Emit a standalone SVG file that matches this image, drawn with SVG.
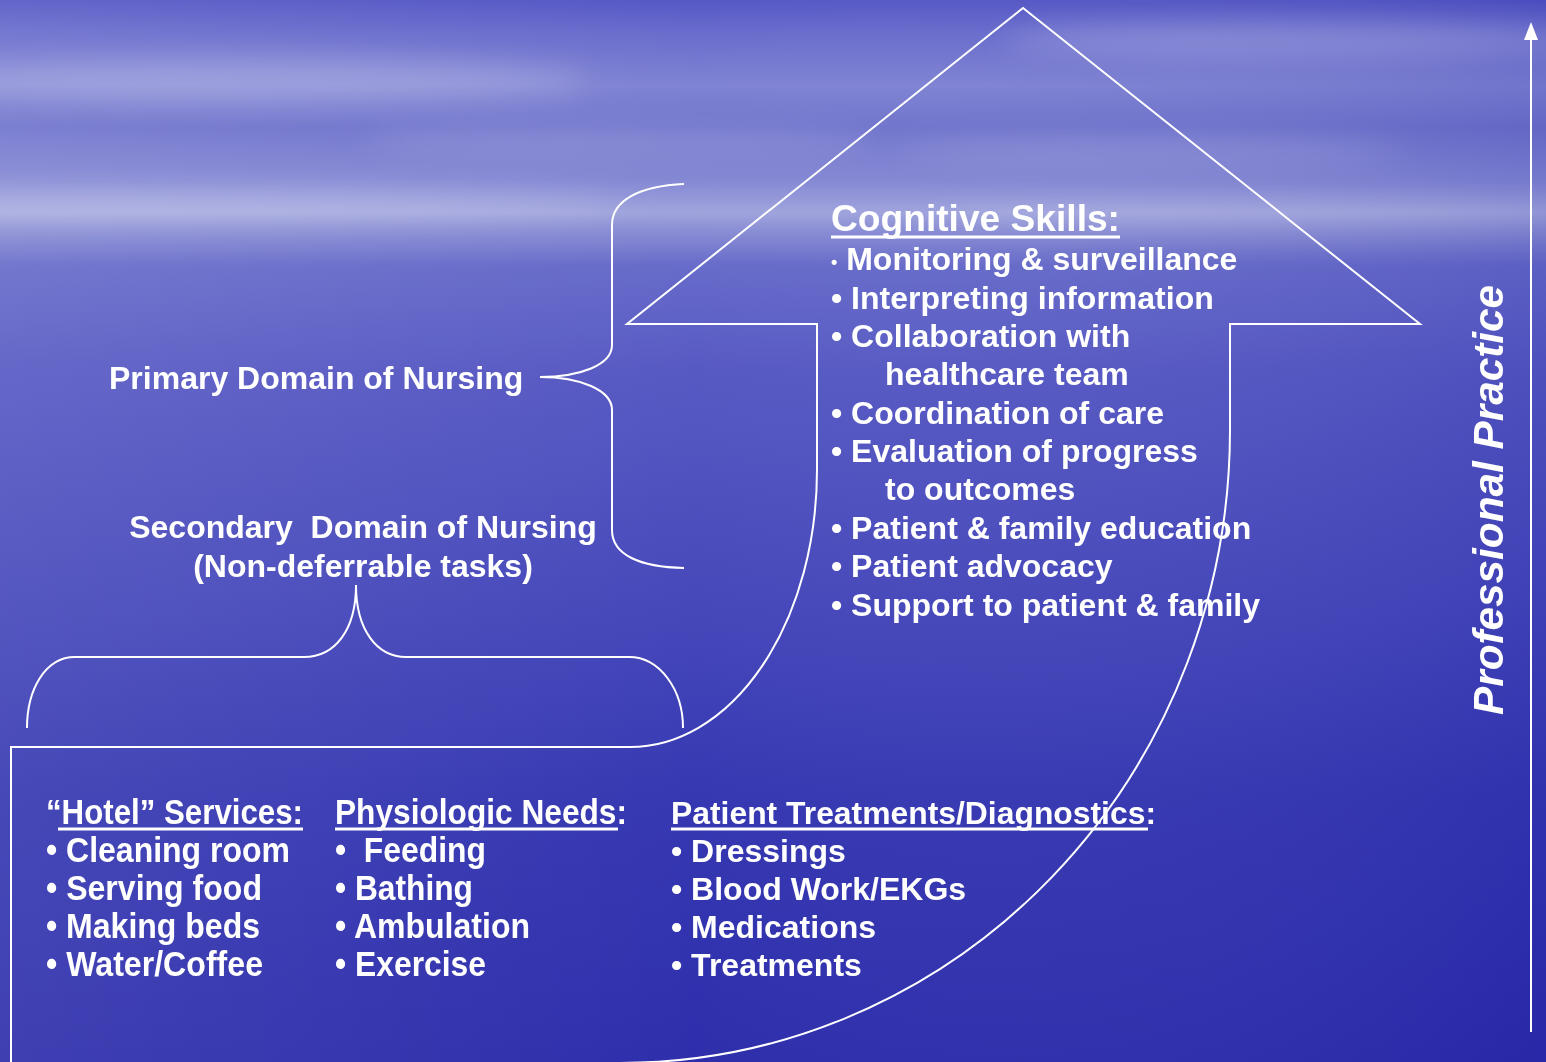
<svg xmlns="http://www.w3.org/2000/svg" width="1546" height="1062" viewBox="0 0 1546 1062">
  <defs>
    <linearGradient id="sky" x1="0" y1="0" x2="0" y2="1">
      <stop offset="0" stop-color="#5254c4"/>
      <stop offset="0.03" stop-color="#6669cb"/>
      <stop offset="0.08" stop-color="#7d81d2"/>
      <stop offset="0.12" stop-color="#6d71cb"/>
      <stop offset="0.17" stop-color="#8286d3"/>
      <stop offset="0.2" stop-color="#9ea2dc"/>
      <stop offset="0.215" stop-color="#8a8ed4"/>
      <stop offset="0.25" stop-color="#6468c8"/>
      <stop offset="0.35" stop-color="#5456c2"/>
      <stop offset="0.55" stop-color="#4446ba"/>
      <stop offset="0.75" stop-color="#3234b0"/>
      <stop offset="1" stop-color="#2a2aaa"/>
    </linearGradient>
    <linearGradient id="side" x1="0" y1="0" x2="1" y2="0">
      <stop offset="0" stop-color="#ffffff" stop-opacity="0.1"/>
      <stop offset="0.45" stop-color="#ffffff" stop-opacity="0.02"/>
      <stop offset="1" stop-color="#1a1a98" stop-opacity="0.12"/>
    </linearGradient>
    <filter id="soft" x="-20%" y="-200%" width="140%" height="500%">
      <feGaussianBlur stdDeviation="14"/>
    </filter>
    <style>
      .ln { fill: none; stroke: #ffffff; stroke-width: 2; }
      .t { fill: #ffffff; font-family: "Liberation Sans", Arial, sans-serif; font-weight: bold; }
      .cog { font-size: 32px; }
      .dom { font-size: 32px; }
      .col { font-size: 35px; }
      .ul { stroke: #ffffff; stroke-width: 3; }
    </style>
  </defs>

  <!-- sky and sea backdrop -->
  <rect width="1546" height="1062" fill="url(#sky)"/>
  <rect width="1546" height="1062" fill="url(#side)"/>
  <g fill="#ffffff" filter="url(#soft)">
    <ellipse cx="260" cy="80" rx="330" ry="22" opacity="0.2"/>
    <ellipse cx="620" cy="140" rx="260" ry="16" opacity="0.13"/>
    <ellipse cx="1300" cy="40" rx="300" ry="18" opacity="0.2"/>
    <ellipse cx="1150" cy="150" rx="260" ry="14" opacity="0.13"/>
    <ellipse cx="200" cy="205" rx="420" ry="14" opacity="0.18"/>
    <ellipse cx="1250" cy="215" rx="320" ry="12" opacity="0.13"/>
  </g>

  <!-- connectors: arrow outline, braces, vertical axis -->
  <g id="connectors">
    <path class="ln" d="M11,1062 L11,747 L630,747 A187,277 0 0 0 817,470 L817,324 L627,324 L1023,8 L1420,324 L1230,324 L1230,430 A610,633 0 0 1 620,1063"/>
    <path class="ln" d="M684,184 C640,186 612,200 612,225 L612,345 C612,365 580,377 540,377 C580,377 612,390 612,410 L612,530 C612,555 640,567 684,568"/>
    <path class="ln" d="M27,728 C27,690 45,657 75,657 L304,657 C335,657 356,630 356,585 C356,630 377,657 406,657 L629,657 C660,657 683,690 683,728"/>
    <line class="ln" x1="1531" y1="1032" x2="1531" y2="36"/>
    <polygon points="1531,22 1524,40 1538,40" fill="#ffffff"/>
  </g>

  <!-- cognitive skills -->
  <g id="cognitive">
    <text class="t" x="831" y="231" font-size="37" textLength="289" lengthAdjust="spacingAndGlyphs">Cognitive Skills:</text>
    <line class="ul" x1="831" y1="237" x2="1120" y2="237"/>
    <text class="t cog" x="831" y="270"><tspan font-size="18" dy="-2">•</tspan><tspan dy="2"> Monitoring &amp; surveillance</tspan></text>
    <text class="t cog" x="831" y="309">• Interpreting information</text>
    <text class="t cog" x="831" y="347">• Collaboration with</text>
    <text class="t cog" x="885" y="385">healthcare team</text>
    <text class="t cog" x="831" y="424">• Coordination of care</text>
    <text class="t cog" x="831" y="462">• Evaluation of progress</text>
    <text class="t cog" x="885" y="500">to outcomes</text>
    <text class="t cog" x="831" y="539">• Patient &amp; family education</text>
    <text class="t cog" x="831" y="577">• Patient advocacy</text>
    <text class="t cog" x="831" y="616">• Support to patient &amp; family</text>
  </g>

  <!-- domain labels -->
  <g id="primary">
    <text class="t dom" x="109" y="389">Primary Domain of Nursing</text>
  </g>
  <g id="secondary">
    <text class="t dom" x="363" y="538" text-anchor="middle" xml:space="preserve">Secondary  Domain of Nursing</text>
    <text class="t dom" x="363" y="577" text-anchor="middle">(Non-deferrable tasks)</text>
  </g>

  <!-- hotel services -->
  <g id="hotel">
    <text class="t col" x="46" y="824" textLength="257" lengthAdjust="spacingAndGlyphs">“Hotel” Services:</text>
    <line class="ul" x1="58" y1="829" x2="303" y2="829"/>
    <text class="t col" x="46" y="862" textLength="244" lengthAdjust="spacingAndGlyphs">• Cleaning room</text>
    <text class="t col" x="46" y="900" textLength="216" lengthAdjust="spacingAndGlyphs">• Serving food</text>
    <text class="t col" x="46" y="938" textLength="214" lengthAdjust="spacingAndGlyphs">• Making beds</text>
    <text class="t col" x="46" y="976" textLength="217" lengthAdjust="spacingAndGlyphs">• Water/Coffee</text>
  </g>

  <!-- physiologic needs -->
  <g id="physiologic">
    <text class="t col" x="335" y="824" textLength="292" lengthAdjust="spacingAndGlyphs">Physiologic Needs:</text>
    <line class="ul" x1="335" y1="829" x2="618" y2="829"/>
    <text class="t col" x="335" y="862" textLength="151" lengthAdjust="spacingAndGlyphs" xml:space="preserve">•  Feeding</text>
    <text class="t col" x="335" y="900" textLength="138" lengthAdjust="spacingAndGlyphs">• Bathing</text>
    <text class="t col" x="335" y="938" textLength="195" lengthAdjust="spacingAndGlyphs">• Ambulation</text>
    <text class="t col" x="335" y="976" textLength="151" lengthAdjust="spacingAndGlyphs">• Exercise</text>
  </g>

  <!-- treatments and diagnostics -->
  <g id="treatments">
    <text class="t" x="671" y="824" font-size="32" textLength="485" lengthAdjust="spacingAndGlyphs">Patient Treatments/Diagnostics:</text>
    <line class="ul" x1="671" y1="829" x2="1148" y2="829"/>
    <text class="t" x="671" y="862" font-size="32">• Dressings</text>
    <text class="t" x="671" y="900" font-size="32">• Blood Work/EKGs</text>
    <text class="t" x="671" y="938" font-size="32">• Medications</text>
    <text class="t" x="671" y="976" font-size="32">• Treatments</text>
  </g>

  <!-- vertical axis label -->
  <g id="professional">
    <text class="t" transform="translate(1503,715) rotate(-90)" font-size="42" font-style="italic" textLength="430" lengthAdjust="spacingAndGlyphs">Professional Practice</text>
  </g>
</svg>
